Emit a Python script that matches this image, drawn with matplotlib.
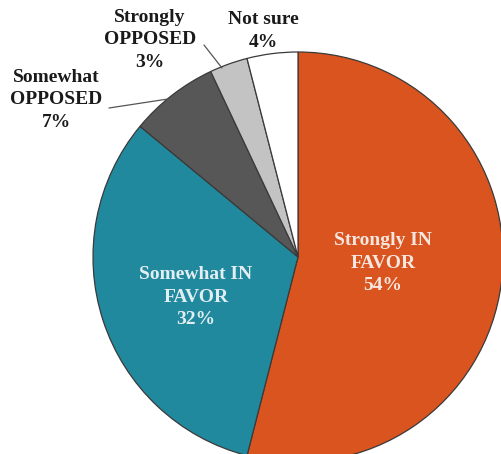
import matplotlib
matplotlib.use("Agg")
from matplotlib import pyplot as plt

labels = ['Strongly IN\nFAVOR', 'Somewhat IN\nFAVOR', 'Somewhat\nOPPOSED', 'Strongly\nOPPOSED', 'Not sure']
values = [54, 32, 7, 3, 4]
colors = ['#D9541E', '#21899D', '#575757', '#C3C3C3', '#FFFFFF']

plt.rcParams['font.family'] = ['Liberation Serif', 'DejaVu Serif']

W, H = 501, 454
cx, cy, R = 298, 257, 205

fig = plt.figure(figsize=(W / 100, H / 100), dpi=100)
ax = fig.add_axes([(cx - R) / W, (H - cy - R) / H, 2 * R / W, 2 * R / H])
ax.pie(values, colors=colors, startangle=90, counterclock=False, radius=1,
       wedgeprops=dict(edgecolor='#3A3A3A', linewidth=0.9))
ax.set_xlim(-1, 1)
ax.set_ylim(-1, 1)
ax.set_aspect('equal')
ax.axis('off')


def d(px, py):
    return ((px - cx) / R, (cy - py) / R)


fs = 14
ls = 1.4
# inside labels
ax.text(*d(383, 263), labels[0] + '\n%d%%' % values[0], ha='center', va='center',
        color='#F5E6E0', fontsize=fs, fontweight='bold', linespacing=ls)
ax.text(*d(196, 297), labels[1] + '\n%d%%' % values[1], ha='center', va='center',
        color='#E2EEF1', fontsize=fs, fontweight='bold', linespacing=ls)

# outside labels
ax.text(*d(56, 100), labels[2] + '\n%d%%' % values[2], ha='center', va='center',
        color='#1A1A1A', fontsize=fs, fontweight='bold', linespacing=ls)
ax.text(*d(150, 40), labels[3] + '\n%d%%' % values[3], ha='center', va='center',
        color='#1A1A1A', fontsize=fs, fontweight='bold', linespacing=ls)
ax.text(*d(263, 31), labels[4] + '\n%d%%' % values[4], ha='center', va='center',
        color='#1A1A1A', fontsize=fs, fontweight='bold', linespacing=ls)

# leader lines
ax.annotate('', xy=d(168, 99), xytext=d(109, 108),
            arrowprops=dict(arrowstyle='-', color='#555555', lw=0.9, shrinkA=0, shrinkB=0))
ax.annotate('', xy=d(222, 68), xytext=d(204, 45),
            arrowprops=dict(arrowstyle='-', color='#555555', lw=0.9, shrinkA=0, shrinkB=0))

fig.savefig('out.png', dpi=100)
